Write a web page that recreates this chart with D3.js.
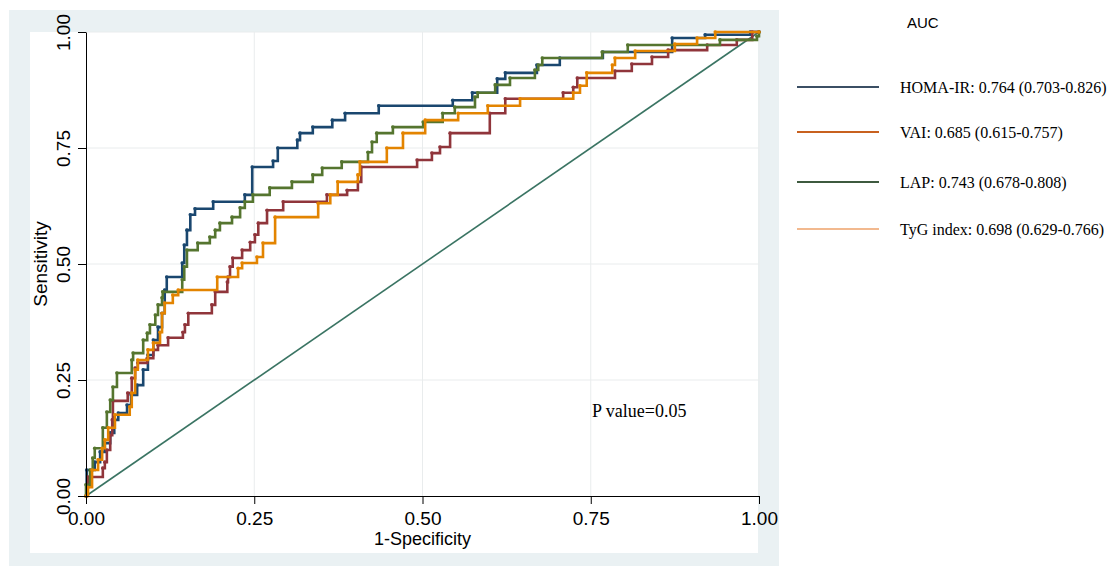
<!DOCTYPE html>
<html>
<head>
<meta charset="utf-8">
<script src="https://cdn.jsdelivr.net/npm/d3@7"></script>
<style>
  body { margin: 0; background: #fff; }
</style>
</head>
<body>
<svg id="roc"></svg>
<script>
// ROC points: [1-specificity, sensitivity]
const homaIr = [[0,0],[0.001,0.056],[0.013,0.073],[0.021,0.095],[0.028,0.114],[0.036,0.136],[0.042,0.164],
  [0.048,0.179],[0.061,0.196],[0.067,0.218],[0.076,0.239],[0.085,0.272],[0.092,0.304],[0.100,0.336],
  [0.107,0.364],[0.113,0.394],[0.117,0.444],[0.120,0.472],[0.143,0.502],[0.146,0.541],[0.150,0.573],
  [0.155,0.606],[0.162,0.619],[0.189,0.634],[0.236,0.649],[0.247,0.709],[0.278,0.722],[0.285,0.750],
  [0.314,0.767],[0.318,0.782],[0.337,0.795],[0.366,0.810],[0.385,0.825],[0.435,0.841],[0.545,0.853],
  [0.574,0.869],[0.611,0.899],[0.623,0.912],[0.670,0.929],[0.704,0.944],[0.768,0.957],[0.871,0.987],
  [0.920,0.994],[0.987,1],[1,1]];

const vai = [[0,0],[0.001,0.024],[0.003,0.041],[0.025,0.060],[0.028,0.073],[0.031,0.099],[0.036,0.131],
  [0.039,0.164],[0.040,0.205],[0.062,0.222],[0.068,0.254],[0.073,0.276],[0.077,0.287],[0.091,0.297],
  [0.100,0.315],[0.107,0.325],[0.122,0.341],[0.144,0.353],[0.147,0.369],[0.152,0.394],[0.187,0.412],
  [0.192,0.440],[0.210,0.461],[0.211,0.472],[0.214,0.494],[0.218,0.513],[0.232,0.530],[0.244,0.547],
  [0.251,0.563],[0.256,0.588],[0.269,0.616],[0.293,0.634],[0.358,0.649],[0.388,0.659],[0.404,0.677],
  [0.409,0.709],[0.492,0.724],[0.514,0.739],[0.526,0.752],[0.541,0.782],[0.600,0.825],[0.623,0.856],
  [0.709,0.869],[0.724,0.881],[0.730,0.901],[0.786,0.916],[0.811,0.931],[0.841,0.946],[0.865,0.961],
  [0.923,0.972],[0.967,0.983],[0.990,1],[1,1]];

const lap = [[0,0],[0,0.024],[0.006,0.056],[0.010,0.082],[0.013,0.103],[0.025,0.147],[0.031,0.181],
  [0.036,0.207],[0.040,0.235],[0.046,0.265],[0.068,0.293],[0.070,0.308],[0.085,0.336],[0.091,0.351],
  [0.095,0.369],[0.103,0.390],[0.107,0.412],[0.113,0.427],[0.114,0.440],[0.143,0.466],[0.146,0.494],
  [0.150,0.530],[0.166,0.545],[0.184,0.558],[0.192,0.573],[0.199,0.588],[0.217,0.601],[0.229,0.621],
  [0.236,0.634],[0.248,0.649],[0.273,0.664],[0.306,0.677],[0.337,0.692],[0.351,0.707],[0.380,0.720],
  [0.419,0.741],[0.425,0.763],[0.432,0.782],[0.456,0.795],[0.501,0.806],[0.530,0.825],[0.548,0.838],
  [0.578,0.860],[0.582,0.869],[0.608,0.886],[0.630,0.901],[0.667,0.918],[0.672,0.929],[0.678,0.944],
  [0.767,0.957],[0.805,0.972],[0.942,0.983],[0.997,0.991],[1,1]];

const tyg = [[0,0],[0.003,0.019],[0.009,0.056],[0.018,0.078],[0.024,0.103],[0.028,0.121],[0.033,0.147],
  [0.043,0.175],[0.065,0.192],[0.068,0.222],[0.073,0.272],[0.077,0.293],[0.092,0.315],[0.100,0.330],
  [0.110,0.353],[0.113,0.394],[0.117,0.416],[0.129,0.433],[0.137,0.444],[0.195,0.472],[0.226,0.491],
  [0.232,0.502],[0.254,0.515],[0.263,0.545],[0.281,0.601],[0.345,0.631],[0.363,0.649],[0.374,0.677],
  [0.404,0.692],[0.407,0.720],[0.447,0.750],[0.471,0.782],[0.504,0.810],[0.553,0.825],[0.597,0.841],
  [0.645,0.856],[0.724,0.869],[0.734,0.884],[0.744,0.912],[0.782,0.929],[0.786,0.944],[0.816,0.959],
  [0.875,0.974],[0.908,0.987],[0.935,1],[1,1]];

const reference = [[0,0],[1,1]];

const ticks = [0, 0.25, 0.5, 0.75, 1];
const legendTitle = "AUC";
const legendLabels = [
  "HOMA-IR: 0.764 (0.703-0.826)",
  "VAI: 0.685 (0.615-0.757)",
  "LAP: 0.743 (0.678-0.808)",
  "TyG index: 0.698 (0.629-0.766)"
];
const legendColors = ["#3b4f64", "#c8611f", "#3e5a3f", "#f2b98f"];
const annotation = "P value=0.05";

// curves, drawn in Stata order
const series = [
  { data: homaIr, color: "#1a476f" },
  { data: vai, color: "#90353b" },
  { data: lap, color: "#55752f" },
  { data: tyg, color: "#e38400" }
];

const SANS = '"Liberation Sans", Arial, sans-serif';
const SERIF = '"Liberation Serif", "Times New Roman", serif';

const W = 1111, H = 566;
const svg = d3.select("#roc").attr("width", W).attr("height", H);

// graph region + plot region
svg.append("rect").attr("x", 9).attr("y", 10).attr("width", 770).attr("height", 556).attr("fill", "#eaf1f3");
svg.append("rect").attr("x", 30).attr("y", 32).attr("width", 728).attr("height", 521).attr("fill", "#fff");

const x = d3.scaleLinear().domain([0, 1]).range([86, 759]);
const y = d3.scaleLinear().domain([0, 1]).range([496, 32]);

// grid
const grid = svg.append("g").attr("stroke", "#e9eced").attr("stroke-width", 1);
grid.selectAll(".gx").data(ticks.slice(1)).enter().append("line")
  .attr("x1", d => x(d)).attr("x2", d => x(d)).attr("y1", y(0)).attr("y2", y(1));
grid.selectAll(".gy").data(ticks.slice(1)).enter().append("line")
  .attr("x1", x(0)).attr("x2", x(1)).attr("y1", d => y(d)).attr("y2", d => y(d));

// reference diagonal
svg.append("path")
  .attr("d", d3.line().x(d => x(d[0])).y(d => y(d[1]))(reference))
  .attr("fill", "none").attr("stroke", "#3a7463").attr("stroke-width", 1.6);

const step = d3.line().x(d => x(d[0])).y(d => y(d[1])).curve(d3.curveStepAfter);

series.forEach(s => {
  svg.append("path")
    .attr("d", step(s.data))
    .attr("fill", "none")
    .attr("stroke", s.color)
    .attr("stroke-width", 2.6);
  svg.append("g").selectAll("circle").data(s.data).enter().append("circle")
    .attr("cx", d => x(d[0])).attr("cy", d => y(d[1]))
    .attr("r", 1.8).attr("fill", s.color);
});

// axes
const fmt = d3.format(".2f");
const yAxis = svg.append("g").attr("transform", `translate(${x(0)},0)`)
  .call(d3.axisLeft(y).tickValues(ticks).tickFormat(fmt).tickSize(8).tickSizeOuter(0));
yAxis.selectAll("text")
  .attr("x", 0).attr("dy", null).attr("y", 0)
  .attr("text-anchor", "middle")
  .attr("transform", "translate(-16,0) rotate(-90)");

const xAxis = svg.append("g").attr("transform", `translate(0,${y(0)})`)
  .call(d3.axisBottom(x).tickValues(ticks).tickFormat(fmt).tickSize(8).tickSizeOuter(0));
xAxis.selectAll("text").attr("y", 29).attr("dy", null);

[yAxis, xAxis].forEach(a => {
  a.selectAll("text").attr("fill", "#000")
    .style("font-family", SANS).style("font-size", "19px");
  a.selectAll("line, path").attr("stroke", "#000");
});

// axis titles
svg.append("text")
  .attr("transform", `translate(47,${y(0.5)}) rotate(-90)`)
  .attr("text-anchor", "middle")
  .style("font-family", SANS).style("font-size", "19px").text("Sensitivity");
svg.append("text")
  .attr("x", x(0.5)).attr("y", 545)
  .attr("text-anchor", "middle")
  .style("font-family", SANS).style("font-size", "18px").text("1-Specificity");

// annotation
svg.append("text")
  .attr("x", 592).attr("y", 417)
  .style("font-family", SERIF).style("font-size", "18px").text(annotation);

// legend
svg.append("text").attr("x", 907).attr("y", 28)
  .style("font-family", SANS).style("font-size", "15px").text(legendTitle);
const legendY = [87, 132, 182, 229];
const leg = svg.append("g").selectAll("g").data(legendLabels).enter().append("g")
  .attr("transform", (d, i) => `translate(0,${legendY[i]})`);
leg.append("line").attr("x1", 797).attr("x2", 879)
  .attr("stroke", (d, i) => legendColors[i]).attr("stroke-width", 2);
leg.append("text").attr("x", 900).attr("dy", "0.35em")
  .style("font-family", SERIF).style("font-size", "16px").text(d => d);
</script>
</body>
</html>
